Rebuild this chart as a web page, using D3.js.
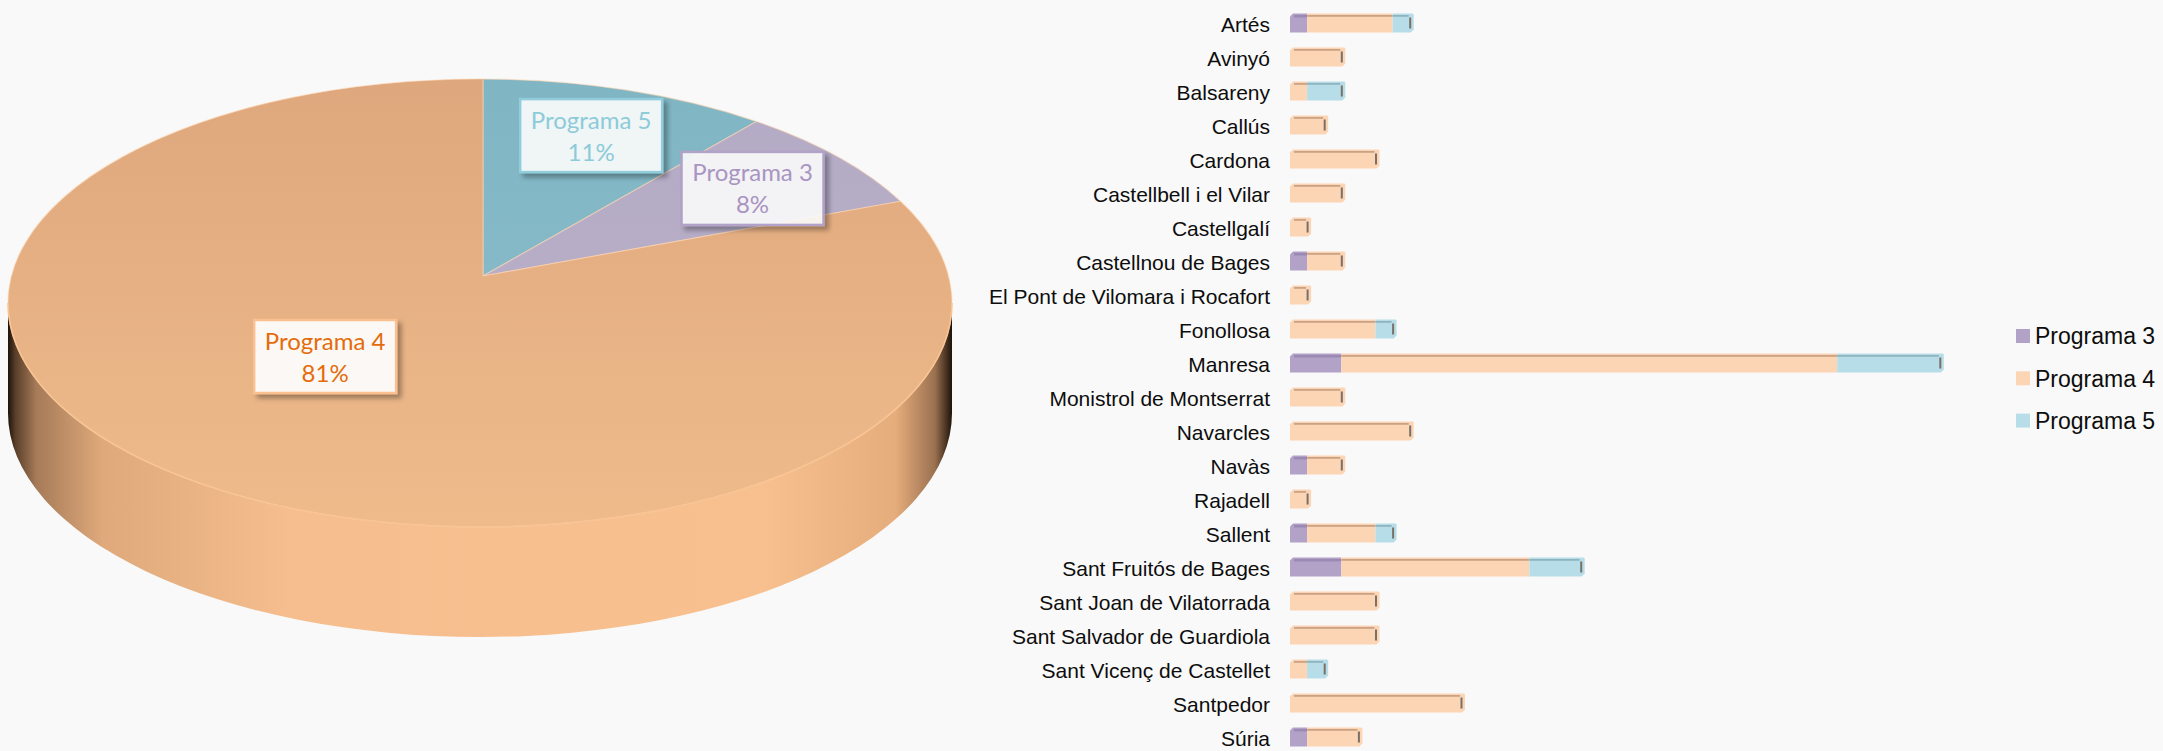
<!DOCTYPE html>
<html>
<head>
<meta charset="utf-8">
<script src="https://cdn.jsdelivr.net/npm/d3@7"></script>
<style>
  body { margin: 0; background: #f9f9f9; }
  svg { display: block; }
</style>
</head>
<body>
<svg id="chart"></svg>
<script>
const width = 2163;
const height = 751;

// ===== DADES =====
const municipis = [
  "Artés", "Avinyó", "Balsareny", "Callús", "Cardona", "Castellbell i el Vilar",
  "Castellgalí", "Castellnou de Bages", "El Pont de Vilomara i Rocafort", "Fonollosa",
  "Manresa", "Monistrol de Montserrat", "Navarcles", "Navàs", "Rajadell", "Sallent",
  "Sant Fruitós de Bages", "Sant Joan de Vilatorrada", "Sant Salvador de Guardiola",
  "Sant Vicenç de Castellet", "Santpedor", "Súria"
];
const programa3 = [1, 0, 0, 0, 0, 0, 0, 1, 0, 0, 3, 0, 0, 1, 0, 1, 3, 0, 0, 0, 0, 1];
const programa4 = [5, 3, 1, 2, 5, 3, 1, 2, 1, 5, 29, 3, 7, 2, 1, 4, 11, 5, 5, 1, 10, 3];
const programa5 = [1, 0, 2, 0, 0, 0, 0, 0, 0, 1, 6, 0, 0, 0, 0, 1, 3, 0, 0, 1, 0, 0];
const programes = ["Programa 3", "Programa 4", "Programa 5"];
// ordre dels sectors (en sentit horari des de dalt)
const ordrePastis = ["Programa 5", "Programa 3", "Programa 4"];

const colors = { "Programa 3": "#b3a2c7", "Programa 4": "#fcd5b5", "Programa 5": "#b7dee8" };
const topColors = { "Programa 3": "#9c89b3", "Programa 4": "#c9a384", "Programa 5": "#8fb4bf" };

const svg = d3.select("#chart").attr("width", width).attr("height", height);
const defs = svg.append("defs");

// ===== BARRES =====
const rows = municipis.map((m, i) => ({
  municipi: m,
  "Programa 3": programa3[i],
  "Programa 4": programa4[i],
  "Programa 5": programa5[i]
}));

const x = d3.scaleLinear().domain([0, 40]).range([1290, 1974]);
const y = d3.scaleBand().domain(municipis).range([6, 754])
  .paddingInner(0.44).paddingOuter(0.22);

const stacked = d3.stack().keys(programes)(rows);

const yAxis = svg.append("g")
  .attr("transform", `translate(${x(0)},0)`)
  .call(d3.axisLeft(y).tickSize(0).tickPadding(20));
yAxis.select(".domain").remove();
yAxis.selectAll("text")
  .attr("font-family", "'Liberation Sans', Arial, sans-serif")
  .attr("font-size", 21)
  .attr("dy", "0.42em")
  .attr("fill", "#0d0d0d");

const bars = svg.append("g");
const d = 4; // profunditat 3D

stacked.forEach(serie => {
  serie.forEach((s, i) => {
    if (s[1] - s[0] <= 0) return;
    const row = rows[i];
    const total = programes.reduce((a, k) => a + row[k], 0);
    const first = programes.find(k => row[k] > 0) === serie.key;
    const last = s[1] === total;
    const x0 = x(s[0]), x1 = x(s[1]) + (last ? d : 0);
    const y0 = y(row.municipi), y1 = y0 + y.bandwidth();
    const c = 3;
    const pts = [
      [x0, y0 + (first ? c : 0)], [x0 + (first ? c : 0), y0],
      [x1 - (last ? 1 : 0), y0], [x1, y0 + (last ? 1 : 0)],
      [x1, y1 - (last ? c : 0)], [x1 - (last ? c : 0), y1],
      [x0, y1]
    ];
    const g = bars.append("g");
    g.append("polygon")
      .attr("points", pts.map(p => p.join(",")).join(" "))
      .attr("fill", colors[serie.key]);
    // cara superior
    g.append("rect")
      .attr("x", x0 + (first ? c + 1 : 0)).attr("y", y0 + 1.5)
      .attr("width", Math.max(0, x1 - x0 - (first ? c + 1 : 0) - (last ? d + 1 : 0)))
      .attr("height", serie.key === "Programa 3" ? 2.5 : 1.8)
      .attr("fill", topColors[serie.key]);
    if (last) {
      g.append("rect")
        .attr("x", x1 - d - 0.5).attr("y", y0 + 4)
        .attr("width", 2).attr("height", y1 - y0 - 8)
        .attr("fill", "#7b7068");
    }
  });
});

// ===== LLEGENDA =====
const legend = svg.append("g");
programes.forEach((p, i) => {
  const ly = 336 + i * 42.3;
  legend.append("rect")
    .attr("x", 2016).attr("y", ly - 7).attr("width", 14).attr("height", 14)
    .attr("fill", colors[p]);
  legend.append("text")
    .attr("x", 2035).attr("y", ly).attr("dy", "0.36em")
    .attr("font-family", "'Liberation Sans', Arial, sans-serif")
    .attr("font-size", 23)
    .attr("fill", "#0d0d0d")
    .text(p);
});

// ===== PASTÍS 3D =====
const totals = ordrePastis.map(k => ({ key: k, value: rows.reduce((a, r) => a + r[k], 0) }));
const sumAll = d3.sum(totals, t => t.value);
const arcs = d3.pie().sort(null).value(t => t.value)(totals);

const pc = { cx: 480, cy: 303, rx: 472, ry: 224, ax: 483, ay: 276, depth: 110 };

function rimPoint(theta) {
  const dx = Math.sin(theta) * pc.rx, dy = -Math.cos(theta) * pc.ry;
  const ox = (pc.ax - pc.cx) / pc.rx, oy = (pc.ay - pc.cy) / pc.ry;
  const ux = dx / pc.rx, uy = dy / pc.ry;
  const a = ux * ux + uy * uy, b = 2 * (ox * ux + oy * uy), cc = ox * ox + oy * oy - 1;
  const s = (-b + Math.sqrt(b * b - 4 * a * cc)) / (2 * a);
  return [pc.ax + dx * s, pc.ay + dy * s];
}
function paramAngle(p) {
  return Math.atan2((p[0] - pc.cx) / pc.rx, -(p[1] - pc.cy) / pc.ry);
}

// gradients
const sideGrad = defs.append("linearGradient").attr("id", "side")
  .attr("gradientUnits", "userSpaceOnUse")
  .attr("x1", pc.cx - pc.rx).attr("x2", pc.cx + pc.rx).attr("y1", 0).attr("y2", 0);
[[0, "#1e130a"], [0.008, "#5a3f2a"], [0.03, "#a67b58"], [0.1, "#dfa97b"],
 [0.3, "#f6be8e"], [0.8, "#f8c08f"], [0.94, "#e6ad7c"], [0.982, "#9a7150"], [1, "#1e130a"]]
  .forEach(s => sideGrad.append("stop").attr("offset", s[0]).attr("stop-color", s[1]));

const topGrads = {
  "Programa 4": ["#dea77d", "#efbb8b"],
  "Programa 5": ["#80b5c4", "#8cbfcc"],
  "Programa 3": ["#b3aac5", "#bcb1c9"]
};
Object.entries(topGrads).forEach(([k, c], i) => {
  const g = defs.append("linearGradient").attr("id", "top" + i)
    .attr("gradientUnits", "userSpaceOnUse")
    .attr("x1", 0).attr("x2", 0).attr("y1", pc.cy - pc.ry).attr("y2", pc.cy + pc.ry);
  g.append("stop").attr("offset", 0).attr("stop-color", c[0]);
  g.append("stop").attr("offset", 1).attr("stop-color", c[1]);
  topGrads[k].id = "top" + i;
});

const pie = svg.append("g");

// costat
pie.append("path")
  .attr("d", `M${pc.cx - pc.rx},${pc.cy} A${pc.rx},${pc.ry} 0 0 0 ${pc.cx + pc.rx},${pc.cy}
    L${pc.cx + pc.rx},${pc.cy + pc.depth} A${pc.rx},${pc.ry} 0 0 1 ${pc.cx - pc.rx},${pc.cy + pc.depth} Z`)
  .attr("fill", "url(#side)");

// cara superior
arcs.forEach(a => {
  const p0 = rimPoint(a.startAngle), p1 = rimPoint(a.endAngle);
  let diff = paramAngle(p1) - paramAngle(p0);
  while (diff <= 0) diff += 2 * Math.PI;
  const large = diff > Math.PI ? 1 : 0;
  pie.append("path")
    .attr("d", `M${pc.ax},${pc.ay} L${p0[0]},${p0[1]} A${pc.rx},${pc.ry} 0 ${large} 1 ${p1[0]},${p1[1]} Z`)
    .attr("fill", `url(#${topGrads[a.data.key].id})`)
    .attr("stroke", "rgba(255,214,176,0.55)")
    .attr("stroke-width", 1.2)
    .attr("stroke-linejoin", "round");
});
pie.append("path")
  .attr("d", `M${pc.cx - pc.rx},${pc.cy} A${pc.rx},${pc.ry} 0 0 0 ${pc.cx + pc.rx},${pc.cy}`)
  .attr("fill", "none").attr("stroke", "#f9c494").attr("stroke-width", 1.5);

// etiquetes
const shadow = defs.append("filter").attr("id", "shadow")
  .attr("x", "-20%").attr("y", "-20%").attr("width", "150%").attr("height", "160%");
shadow.append("feDropShadow").attr("dx", 4).attr("dy", 4).attr("stdDeviation", 2.5)
  .attr("flood-color", "#000").attr("flood-opacity", 0.35);

const labelStyle = {
  "Programa 5": { stroke: "#92cddc", text: "#8ccbd9", fill: "rgba(255,255,255,0.88)", f: [0.67, 0.667] },
  "Programa 3": { stroke: "#b3a2c7", text: "#a995c2", fill: "rgba(255,255,255,0.86)", f: [0.70, 0.676] },
  "Programa 4": { stroke: "#fac090", text: "#e46c0a", fill: "rgba(255,255,255,0.92)", f: [0.588, 0.437] }
};
const bw = 142, bh = 73;
arcs.forEach(a => {
  const st = labelStyle[a.data.key];
  const mid = (a.startAngle + a.endAngle) / 2;
  const lx = pc.ax + Math.sin(mid) * pc.rx * st.f[0];
  const ly = pc.ay - Math.cos(mid) * pc.ry * st.f[1];
  const g = pie.append("g");
  g.append("rect")
    .attr("x", lx - bw / 2).attr("y", ly - bh / 2).attr("width", bw).attr("height", bh)
    .attr("fill", st.fill).attr("stroke", st.stroke).attr("stroke-width", 2.5)
    .attr("filter", "url(#shadow)");
  const t = g.append("text")
    .attr("x", lx).attr("text-anchor", "middle")
    .attr("font-family", "Lato, 'Open Sans', sans-serif")
    .attr("font-size", 24).attr("fill", st.text);
  t.append("tspan").attr("x", lx).attr("y", ly - 7).text(a.data.key);
  t.append("tspan").attr("x", lx).attr("y", ly + 25)
    .text(Math.round(a.data.value / sumAll * 100) + "%");
});
</script>
</body>
</html>
